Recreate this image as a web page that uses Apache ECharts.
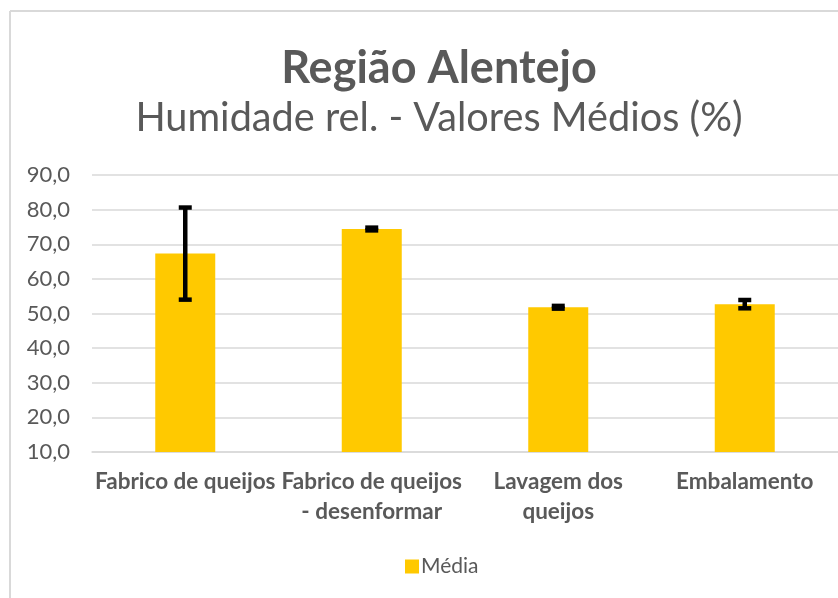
<!DOCTYPE html>
<html>
<head>
<meta charset="utf-8">
<script src="https://cdn.jsdelivr.net/npm/echarts@6/dist/echarts.min.js"></script>
<style>html,body{margin:0;padding:0;background:#fff;}#c{width:838px;height:598px;}</style>
</head>
<body>
<div id="c"></div>
<script>
var categories = ['Fabrico de queijos', 'Fabrico de queijos\n- desenformar', 'Lavagem dos\nqueijos', 'Embalamento'];
var means = [67.3, 74.4, 51.8, 52.7];
var errors = [13.3, 0.4, 0.4, 1.2];
var yTicks = [10, 20, 30, 40, 50, 60, 70, 80, 90];
var seriesName = 'Média';

var FONT = 'Lato';
var chart = echarts.init(document.getElementById('c'));
var errData = means.map(function (m, i) { return [i, m - errors[i], m + errors[i]]; });
chart.setOption({
  animation: false,
  textStyle: { fontFamily: FONT },
  title: [
    { text: 'Região Alentejo', left: 434, top: 41, textAlign: 'center',
      textStyle: { fontFamily: FONT, fontSize: 45, fontWeight: 'bold', color: '#595959' } },
    { text: 'Humidade rel. - Valores Médios (%)', left: 434, top: 93, textAlign: 'center',
      textStyle: { fontFamily: FONT, fontSize: 39.7, fontWeight: 'normal', color: '#595959' } }
  ],
  graphic: [
    { type: 'line', shape: { x1: 10, y1: 11, x2: 838, y2: 11 }, style: { stroke: '#d9d9d9', lineWidth: 2 } },
    { type: 'line', shape: { x1: 10, y1: 11, x2: 10, y2: 598 }, style: { stroke: '#d9d9d9', lineWidth: 2 } }
  ],
  legend: {
    data: [seriesName], left: 400, top: 551, itemWidth: 14, itemHeight: 14, itemGap: 2,
    textStyle: { fontFamily: FONT, fontSize: 21, color: '#595959', padding: [0, 0, 0, -3] }, icon: 'rect'
  },
  grid: { left: 92, right: 0, top: 175, bottom: 146 },
  xAxis: {
    type: 'category', data: categories,
    axisLine: { lineStyle: { color: '#d9d9d9', width: 1.5 } },
    axisTick: { show: false },
    axisLabel: { fontFamily: FONT, fontSize: 22.5, fontWeight: 'bold', color: '#595959', margin: 15, lineHeight: 30, interval: 0 }
  },
  yAxis: {
    type: 'value', min: yTicks[0], max: yTicks[yTicks.length - 1], interval: 10,
    axisLine: { show: false }, axisTick: { show: false },
    splitLine: { lineStyle: { color: '#d9d9d9', width: 1.5 } },
    axisLabel: { fontFamily: FONT, fontSize: 22, color: '#595959', margin: 22,
      formatter: function (v) { return v.toFixed(1).replace('.', ','); } }
  },
  series: [
    { name: seriesName, type: 'bar', data: means, barWidth: 60, itemStyle: { color: '#ffc900' } },
    { type: 'custom', data: errData, z: 10,
      renderItem: function (params, api) {
        var x = api.value(0);
        var lo = api.coord([x, api.value(1)]);
        var hi = api.coord([x, api.value(2)]);
        var hw = 6.5;
        var s = { stroke: '#000', lineWidth: 4.5 };
        return { type: 'group', children: [
          { type: 'line', shape: { x1: lo[0], y1: lo[1], x2: hi[0], y2: hi[1] }, style: s },
          { type: 'line', shape: { x1: lo[0] - hw, y1: lo[1], x2: lo[0] + hw, y2: lo[1] }, style: s },
          { type: 'line', shape: { x1: hi[0] - hw, y1: hi[1], x2: hi[0] + hw, y2: hi[1] }, style: s }
        ] };
      }
    }
  ]
});
</script>
</body>
</html>
